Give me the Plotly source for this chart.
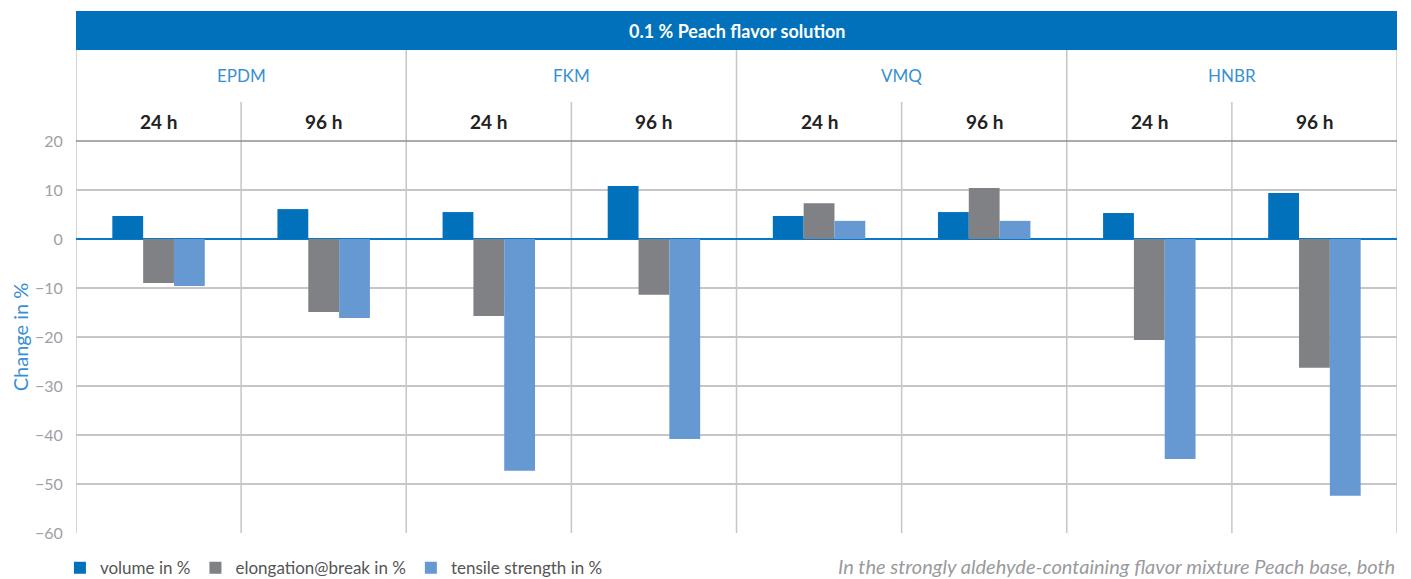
import plotly.graph_objects as go

materials = ["EPDM", "FKM", "VMQ", "HNBR"]
times = ["24 h", "96 h"]
categories = [f"{m} {t}" for m in materials for t in times]
volume = [4.7, 6.1, 5.5, 10.8, 4.7, 5.5, 5.3, 9.4]
elongation = [-9.0, -14.9, -15.7, -11.4, 7.3, 10.4, -20.6, -26.3]
tensile = [-9.6, -16.1, -47.3, -40.8, 3.7, 3.7, -44.9, -52.4]
series_names = ["volume in %", "elongation@break in %", "tensile strength in %"]
colors = ["#0071BA", "#808185", "#6699D2"]
y_ticks = [20, 10, 0, -10, -20, -30, -40, -50, -60]
title_text = "0.1 % Peach flavor solution"
caption = "In the strongly aldehyde-containing flavor mixture Peach base, both"

FONT = "Lato"
xpos = list(range(len(categories)))

fig = go.Figure()
for name, vals, c in zip(series_names, [volume, elongation, tensile], colors):
    fig.add_trace(go.Bar(x=xpos, y=vals, name=name, marker=dict(color=c, line=dict(width=0))))

shapes = []
top_hdr = 1.2321
top_time = 1.0995
grid_col = "#c6c6ca"
for i in range(len(categories) + 1):
    xv = i - 0.5
    top = top_hdr if i % 2 == 0 else top_time
    shapes.append(dict(type="line", xref="x", yref="paper", x0=xv, x1=xv, y0=0, y1=top,
                       line=dict(color=grid_col, width=1.5), layer="below"))
shapes.append(dict(type="rect", xref="paper", yref="paper", x0=0, x1=1, y0=top_hdr, y1=1.3316,
                   fillcolor="#0071BA", line=dict(width=0)))
shapes.append(dict(type="line", xref="paper", yref="paper", x0=0, x1=1, y0=1, y1=1,
                   line=dict(color="#8e8e92", width=1.5)))

annotations = [dict(text=f"<b>{title_text}</b>", xref="paper", yref="paper", x=0.5, y=(top_hdr + 1.3316) / 2,
                    showarrow=False, font=dict(family=FONT, size=18, color="white"), yanchor="middle")]
for k, m in enumerate(materials):
    annotations.append(dict(text=m, xref="x", yref="paper", x=2 * k + 0.5, y=1.166, showarrow=False,
                            yanchor="middle", font=dict(family=FONT, size=17, color="#3a8fd2")))
for i, cat in enumerate(categories):
    annotations.append(dict(text=f"<b>{times[i % 2]}</b>", xref="x", yref="paper", x=i, y=1.05,
                            showarrow=False, yanchor="middle", font=dict(family=FONT, size=19, color="#222222")))
annotations.append(dict(text=f"<i>{caption}</i>", xref="paper", yref="paper", x=1, y=-0.084,
                        xanchor="right", yanchor="middle", showarrow=False,
                        font=dict(family=FONT, size=20, color="#9a9a9e")))

fig.update_layout(
    width=1403, height=571,
    margin=dict(l=68, r=14, t=133, b=46, autoexpand=False),
    paper_bgcolor="white", plot_bgcolor="white",
    barmode="group", bargap=0.44, bargroupgap=0,
    font=dict(family=FONT, color="#999999"),
    xaxis=dict(range=[-0.5, 7.5], showticklabels=False, showgrid=False, zeroline=False, ticks="",
               automargin=False),
    yaxis=dict(range=[-60, 20], tickvals=y_ticks, ticktext=[str(v).replace("-", "\u2212") for v in y_ticks],
               showgrid=True, gridcolor=grid_col, gridwidth=1.5, automargin=False,
               zeroline=True, zerolinecolor="#0a78c8", zerolinewidth=1.5,
               tickfont=dict(family=FONT, size=16, color="#a0a0a4"),
               ticks="outside", ticklen=9, tickcolor="rgba(0,0,0,0)",
               title=dict(text="Change in %", font=dict(family=FONT, size=20, color="#3a8fd2"), standoff=12)),
    legend=dict(orientation="h", xref="container", yref="container", x=0.037, xanchor="left",
                y=0.019, yanchor="middle",
                font=dict(family=FONT, size=17, color="#555555"), itemsizing="constant",
                traceorder="normal"),
    shapes=shapes, annotations=annotations,
)

fig.write_html("out.html")
